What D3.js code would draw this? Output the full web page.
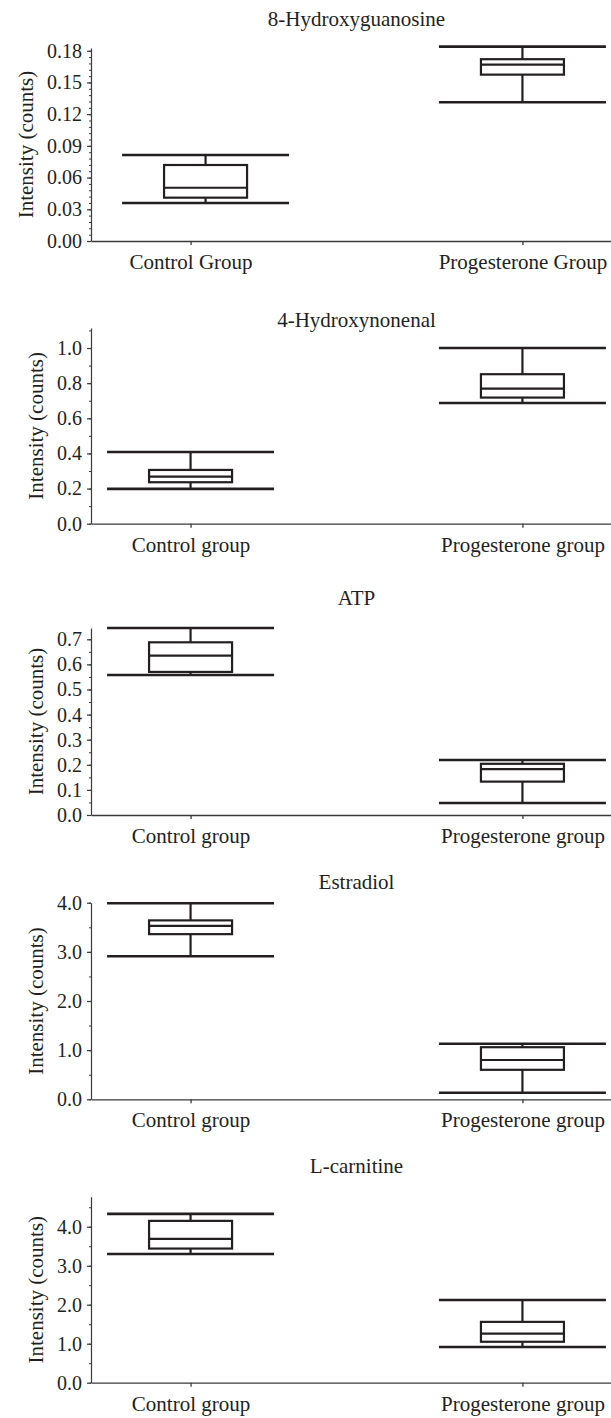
<!DOCTYPE html>
<html>
<head>
<meta charset="utf-8">
<script src="https://cdn.jsdelivr.net/npm/d3@7"></script>
<style>
  body { margin: 0; background: #fff; }
  svg text { font-family: "Liberation Serif", "DejaVu Serif", serif !important; fill: #231f20; }
</style>
</head>
<body>
<div id="chart-container"></div>
<script>
const width = 611;
const height = 1418;
const serif = '"Liberation Serif", "DejaVu Serif", serif';

const titles = ["8-Hydroxyguanosine", "4-Hydroxynonenal", "ATP", "Estradiol", "L-carnitine"];
const groupsCap = ["Control Group", "Progesterone Group"];
const groupsLow = ["Control group", "Progesterone group"];
const groupNames = [groupsCap, groupsLow, groupsLow, groupsLow, groupsLow];

// each box: [lower whisker, q1, median, q3, upper whisker]
const hydroxyguanosine = [
  [0.036, 0.041, 0.0504, 0.0719, 0.0814],
  [0.1313, 0.1574, 0.1669, 0.172, 0.1839],
];
const hydroxynonenal = [
  [0.198, 0.236, 0.268, 0.306, 0.408],
  [0.687, 0.718, 0.769, 0.851, 1.0],
];
const atp = [
  [0.558, 0.57, 0.635, 0.688, 0.745],
  [0.048, 0.133, 0.183, 0.204, 0.219],
];
const estradiol = [
  [2.91, 3.36, 3.53, 3.64, 3.99],
  [0.134, 0.6, 0.8, 1.06, 1.13],
];
const carnitine = [
  [3.3, 3.44, 3.69, 4.15, 4.33],
  [0.915, 1.05, 1.26, 1.56, 2.12],
];
const series = [hydroxyguanosine, hydroxynonenal, atp, estradiol, carnitine];

// y axis extent and tick settings
const yMax = [0.1826, 1.114, 0.745, 4.0, 4.77];
const tickStep = [0.03, 0.2, 0.1, 1, 1];
const minorStep = [0.006, 0.1, 0.05, 0.5, 0.5];
const tickFormats = [".2f", ".1f", ".1f", ".1f", ".1f"];

// layout of each panel (pixels)
const panels = [
  { titleY: 26, top: 48, bottom: 241, shift: [15, 0] },
  { titleY: 327, top: 328, bottom: 523.7, shift: [0, 0] },
  { titleY: 605, top: 628, bottom: 815, shift: [0, 0] },
  { titleY: 889, top: 902.7, bottom: 1099.3, shift: [0, 0] },
  { titleY: 1173, top: 1196.7, bottom: 1382.7, shift: [0, 0] },
];
const axisX = 91;
const plotRight = 622;
const capWidth = 167;
const boxWidth = 83;
const ink = "#231f20";

const svg = d3
  .select("#chart-container")
  .append("svg")
  .attr("width", width)
  .attr("height", height)
  .style("font-family", serif);

series.forEach((boxes, i) => {
  const p = panels[i];
  const names = groupNames[i];

  const x = d3.scalePoint().domain(names).range([axisX, plotRight]).padding(0.3);
  const y = d3.scaleLinear().domain([0, yMax[i]]).range([p.bottom, p.top]);

  const g = svg.append("g");

  // title
  g.append("text")
    .attr("x", (axisX + plotRight) / 2)
    .attr("y", p.titleY)
    .attr("text-anchor", "middle")
    .style("font-size", "21px")
    .text(titles[i]);

  // minor ticks on y
  g.append("g")
    .attr("transform", "translate(" + axisX + ",0)")
    .attr("color", "#3a3a3a")
    .call(
      d3.axisLeft(y)
        .tickValues(d3.range(0, yMax[i] + 1e-9, minorStep[i]))
        .tickSize(2)
        .tickSizeOuter(0)
        .tickFormat("")
    )
    .call((a) => a.select(".domain").remove());

  // y axis
  const yAxis = g
    .append("g")
    .attr("transform", "translate(" + axisX + ",0)")
    .attr("color", "#3a3a3a")
    .call(
      d3.axisLeft(y)
        .tickValues(d3.range(0, yMax[i] + 1e-9, tickStep[i]))
        .tickSize(4)
        .tickSizeOuter(0)
        .tickPadding(5)
        .tickFormat(d3.format(tickFormats[i]))
    )
    .attr("font-family", serif);
  yAxis.selectAll("text").style("font-size", "20px").attr("fill", ink);
  yAxis.selectAll("path, line").attr("stroke-width", 1.2);

  // x axis
  const xAxis = g
    .append("g")
    .attr("transform", "translate(0," + p.bottom + ")")
    .attr("color", "#3a3a3a")
    .call(d3.axisBottom(x).tickSize(4).tickSizeOuter(0).tickPadding(9))
    .attr("font-family", serif);
  xAxis.selectAll("text").style("font-size", "21px").attr("fill", ink);
  xAxis.selectAll("path, line").attr("stroke-width", 1.3);

  // y label, placed left of the tick labels
  const labelLeft = axisX + yAxis.node().getBBox().x;
  g.append("text")
    .attr("transform", "translate(" + (labelLeft - 21) + "," + (p.top + p.bottom) / 2 + ") rotate(-90)")
    .attr("text-anchor", "middle")
    .attr("dy", "0.35em")
    .style("font-size", "21px")
    .text("Intensity (counts)");

  // boxes
  const box = g
    .selectAll(".box")
    .data(boxes)
    .join("g")
    .attr("class", "box")
    .attr("transform", (d, j) => "translate(" + (x(names[j]) + p.shift[j]) + ",0)")
    .attr("stroke", ink)
    .attr("fill", "none");

  box.append("line")
    .attr("y1", (d) => y(d[0]))
    .attr("y2", (d) => y(d[1]))
    .attr("stroke-width", 2.2);

  box.append("line")
    .attr("y1", (d) => y(d[3]))
    .attr("y2", (d) => y(d[4]))
    .attr("stroke-width", 2.2);

  box.append("rect")
    .attr("x", -boxWidth / 2)
    .attr("width", boxWidth)
    .attr("y", (d) => y(d[3]))
    .attr("height", (d) => y(d[1]) - y(d[3]))
    .attr("stroke-width", 2.2);

  box.append("line")
    .attr("x1", -boxWidth / 2)
    .attr("x2", boxWidth / 2)
    .attr("y1", (d) => y(d[2]))
    .attr("y2", (d) => y(d[2]))
    .attr("stroke-width", 2.2);

  box.selectAll(".cap")
    .data((d) => [d[0], d[4]])
    .join("line")
    .attr("class", "cap")
    .attr("x1", -capWidth / 2)
    .attr("x2", capWidth / 2)
    .attr("y1", (v) => y(v))
    .attr("y2", (v) => y(v))
    .attr("stroke-width", 2.6);
});
</script>
</body>
</html>
